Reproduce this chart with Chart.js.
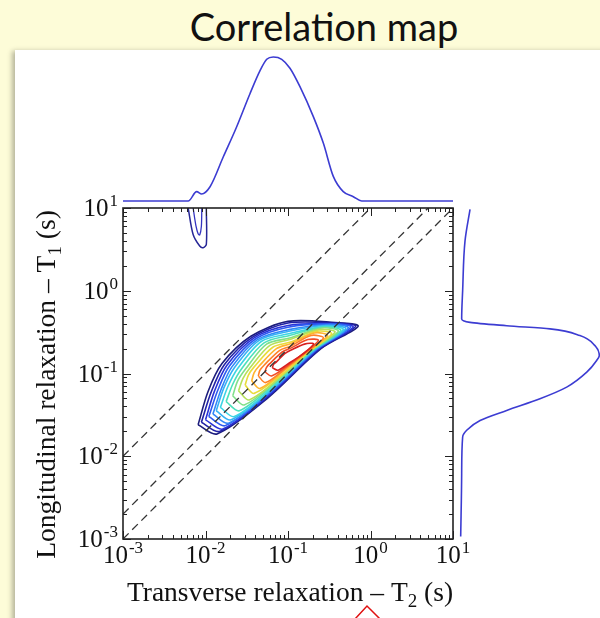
<!DOCTYPE html>
<html>
<head>
<meta charset="utf-8">
<script src="https://cdn.jsdelivr.net/npm/chart.js@4.4.1/dist/chart.umd.min.js"></script>
<style>
  html, body { margin: 0; padding: 0; }
  body { width: 600px; height: 618px; background: #fdfcd8; position: relative; overflow: hidden; }
  #title { position: absolute; left: 24px; width: 600px; top: 3px; text-align: center;
           font: 38px Lato, "Open Sans", sans-serif; color: #111; }
  #panel { position: absolute; left: 15px; top: 50px; width: 620px; height: 600px; background: #fff;
           box-shadow: -3px 1px 5px rgba(0,0,0,0.28); }
  canvas { position: absolute; }
</style>
</head>
<body>
<div id="title">Correlation map</div>
<div id="panel"></div>
<canvas id="main" width="600" height="618" style="left:0;top:0"></canvas>
<canvas id="topDist" width="340" height="158" style="left:118px;top:48px"></canvas>
<canvas id="rightDist" width="145" height="346" style="left:455px;top:200px"></canvas>
<script>
// axis texts
const xTitle = ['Transverse relaxation \u2013 T', '2', ' (s)'];
const yTitle = ['Longitudinal relaxation \u2013 T', '1', ' (s)'];
const tickExponents = [-3, -2, -1, 0, 1];

// T2 projection (top), amplitude normalised to its peak
const t2Values = [0.001, 0.00617, 0.00782, 0.00899, 0.01135, 0.01644, 0.02388, 0.03459, 0.04581,
  0.05521, 0.06637, 0.08395, 0.1057, 0.1396, 0.2028, 0.2679, 0.354, 0.4677, 0.6194, 0.7816, 10];
const t2Amp = [0, 0, 0.065, 0.049, 0.099, 0.307, 0.516, 0.745, 0.905,
  0.984, 1.0, 0.984, 0.922, 0.794, 0.586, 0.402, 0.171, 0.065, 0.030, 0, 0];

// T1 projection (right)
const t1Values = [0.00107, 0.0062, 0.0171, 0.0206, 0.0271, 0.0358, 0.0495, 0.0684, 0.1037,
  0.1435, 0.165, 0.217, 0.287, 0.346, 0.378, 0.415, 0.456, 1.0, 4.0, 9.64];
const t1Amp = [0.005, 0.012, 0.019, 0.048, 0.144, 0.335, 0.574, 0.766, 0.910,
  0.981, 1.0, 0.969, 0.861, 0.646, 0.335, 0.072, 0.012, 0.019, 0.036, 0.072];

// guide lines T1 = 10 T2, T1 = 2 T2, T1 = T2  ([T2, T1] end points)
const guideTenfold = [[0.001, 0.01], [1, 10]];
const guideTwofold = [[0.001, 0.002], [5, 10]];
const guideEqual = [[0.001, 0.001], [10, 10]];

// contour levels, outer -> inner, points as [log10 T2, log10 T1]
const contour1 = [[-2.09,-1.62],[-1.86,-1.73],[-1.25,-1.30],[-0.60,-0.70],[-0.15,-0.43],[-0.43,-0.385],[-1.00,-0.37],[-1.45,-0.55],[-1.80,-0.88],[-1.97,-1.22]];
const contour2 = [[-2.05,-1.59],[-1.83,-1.70],[-1.23,-1.27],[-0.61,-0.70],[-0.18,-0.43],[-0.45,-0.39],[-1.00,-0.39],[-1.43,-0.56],[-1.77,-0.89],[-1.93,-1.22]];
const contour3 = [[-2.00,-1.56],[-1.79,-1.67],[-1.21,-1.24],[-0.63,-0.70],[-0.21,-0.44],[-0.47,-0.40],[-1.00,-0.42],[-1.41,-0.57],[-1.74,-0.90],[-1.89,-1.21]];
const contour4 = [[-1.96,-1.52],[-1.76,-1.63],[-1.19,-1.21],[-0.64,-0.70],[-0.24,-0.44],[-0.49,-0.40],[-1.00,-0.44],[-1.39,-0.58],[-1.71,-0.91],[-1.85,-1.20]];
const contour5 = [[-1.91,-1.49],[-1.72,-1.60],[-1.17,-1.18],[-0.66,-0.71],[-0.27,-0.45],[-0.51,-0.41],[-0.99,-0.47],[-1.37,-0.59],[-1.68,-0.92],[-1.81,-1.19]];
const contour6 = [[-1.87,-1.45],[-1.69,-1.56],[-1.15,-1.15],[-0.67,-0.71],[-0.30,-0.46],[-0.53,-0.42],[-0.99,-0.49],[-1.35,-0.60],[-1.65,-0.93],[-1.78,-1.18]];
const contour7 = [[-1.82,-1.41],[-1.65,-1.52],[-1.13,-1.12],[-0.69,-0.71],[-0.33,-0.47],[-0.55,-0.43],[-0.99,-0.52],[-1.32,-0.61],[-1.61,-0.94],[-1.73,-1.16]];
const contour8 = [[-1.75,-1.34],[-1.59,-1.45],[-1.12,-1.09],[-0.70,-0.72],[-0.36,-0.48],[-0.57,-0.44],[-0.98,-0.54],[-1.29,-0.63],[-1.56,-0.94],[-1.67,-1.13]];
const contour9 = [[-1.67,-1.27],[-1.53,-1.38],[-1.10,-1.06],[-0.72,-0.72],[-0.39,-0.49],[-0.59,-0.45],[-0.98,-0.57],[-1.26,-0.645],[-1.51,-0.94],[-1.61,-1.09]];
const contour10 = [[-1.60,-1.21],[-1.47,-1.32],[-1.08,-1.03],[-0.73,-0.72],[-0.43,-0.50],[-0.62,-0.47],[-0.98,-0.59],[-1.22,-0.66],[-1.46,-0.93],[-1.545,-1.06]];
const contour11 = [[-1.52,-1.14],[-1.41,-1.24],[-1.06,-1.00],[-0.74,-0.73],[-0.47,-0.52],[-0.65,-0.49],[-0.97,-0.62],[-1.18,-0.68],[-1.41,-0.92],[-1.48,-1.02]];
const contour12 = [[-1.44,-1.09],[-1.34,-1.18],[-1.04,-0.96],[-0.76,-0.73],[-0.52,-0.54],[-0.68,-0.51],[-0.97,-0.64],[-1.14,-0.70],[-1.35,-0.91],[-1.41,-0.99]];
const contour13 = [[-1.36,-1.03],[-1.27,-1.11],[-1.02,-0.93],[-0.77,-0.74],[-0.57,-0.57],[-0.72,-0.54],[-0.97,-0.67],[-1.10,-0.72],[-1.29,-0.90],[-1.34,-0.96]];
const contour14 = [[-1.28,-0.98],[-1.20,-1.03],[-1.00,-0.90],[-0.79,-0.74],[-0.63,-0.60],[-0.76,-0.59],[-0.96,-0.69],[-1.07,-0.74],[-1.22,-0.88],[-1.26,-0.925]];
const contour15 = [[-1.19,-0.93],[-1.12,-0.96],[-0.98,-0.87],[-0.80,-0.75],[-0.69,-0.64],[-0.80,-0.645],[-0.96,-0.715],[-1.04,-0.76],[-1.14,-0.86],[-1.175,-0.89]];

// small separate feature hanging from the top edge near T2 = 0.01
const edgeLoopOuter = [[-2.21,1.0],[-2.15,0.68],[-2.07,0.54],[-2.03,0.52],[-1.99,0.56],[-1.99,1.0]];
const edgeLoopInner = [[-2.15,1.0],[-2.115,0.78],[-2.09,0.69],[-2.07,0.675],[-2.05,0.78],[-2.045,1.0]];

const contours = [contour1, contour2, contour3, contour4, contour5, contour6, contour7, contour8,
  contour9, contour10, contour11, contour12, contour13, contour14, contour15];
const jetColors = ['#1c1c7c', '#2222a6', '#2a32d6', '#2d5af0', '#3286f8', '#36b2f4', '#3cd4e4',
  '#4ce0bc', '#80e08a', '#b6e05a', '#e8dc3c', '#ffb430', '#ff8228', '#f04c26', '#d82020'];

const serif = '"Liberation Serif", "Times New Roman", serif';
const lineBlue = '#3c3cd2';

const fromLog = pts => pts.map(p => ({ x: Math.pow(10, p[0]), y: Math.pow(10, p[1]) }));
const closeLoop = pts => pts.concat([pts[0]]);
const asXY = pts => pts.map(p => ({ x: p[0], y: p[1] }));

function powerLabel(ctx, exp, x, y, align) {
  ctx.font = '25px ' + serif;
  const wBase = ctx.measureText('10').width;
  ctx.font = '17px ' + serif;
  const wExp = ctx.measureText(String(exp)).width;
  const total = wBase + 1 + wExp;
  const left = align === 'center' ? x - total / 2 : x - total;
  ctx.textAlign = 'left';
  ctx.textBaseline = 'alphabetic';
  ctx.font = '25px ' + serif;
  ctx.fillText('10', left, y);
  ctx.font = '17px ' + serif;
  ctx.fillText(String(exp), left + wBase + 1, y - 10);
}

function subTitle(ctx, parts, cx, cy) {
  const big = '27.5px ' + serif, small = '19px ' + serif;
  ctx.font = big;
  const w1 = ctx.measureText(parts[0]).width, w3 = ctx.measureText(parts[2]).width;
  ctx.font = small;
  const w2 = ctx.measureText(parts[1]).width;
  const left = cx - (w1 + w2 + w3) / 2;
  ctx.textAlign = 'left';
  ctx.textBaseline = 'alphabetic';
  ctx.font = big;
  ctx.fillText(parts[0], left, cy);
  ctx.font = small;
  ctx.fillText(parts[1], left + w1, cy + 6);
  ctx.font = big;
  ctx.fillText(parts[2], left + w1 + w2, cy);
}

const frame = {
  id: 'frame',
  afterDatasetsDraw(chart) {
    const { ctx, chartArea: a, scales: { x, y } } = chart;
    ctx.save();
    ctx.strokeStyle = '#222';
    ctx.lineWidth = 1;
    ctx.beginPath();
    tickExponents.forEach(e => {
      for (let m = 1; m < 10; m++) {
        const v = m * Math.pow(10, e);
        if (v > 10) break;
        const len = m === 1 ? 8 : 4;
        const px = Math.round(x.getPixelForValue(v)) + 0.5;
        const py = Math.round(y.getPixelForValue(v)) + 0.5;
        ctx.moveTo(px, a.bottom); ctx.lineTo(px, a.bottom - len);
        ctx.moveTo(px, a.top); ctx.lineTo(px, a.top + len);
        ctx.moveTo(a.left, py); ctx.lineTo(a.left + len, py);
        ctx.moveTo(a.right, py); ctx.lineTo(a.right - len, py);
      }
    });
    ctx.stroke();
    ctx.lineWidth = 1.6;
    ctx.strokeRect(a.left, a.top, a.right - a.left, a.bottom - a.top);

    ctx.fillStyle = '#111';
    tickExponents.forEach(e => {
      const v = Math.pow(10, e);
      powerLabel(ctx, e, x.getPixelForValue(v), a.bottom + 24, 'center');
      powerLabel(ctx, e, a.left - 5, y.getPixelForValue(v) + 8, 'right');
    });

    subTitle(ctx, xTitle, (a.left + a.right) / 2 + 2, a.bottom + 62);
    ctx.save();
    ctx.translate(55, (a.top + a.bottom) / 2 + 11);
    ctx.rotate(-Math.PI / 2);
    subTitle(ctx, yTitle, 0, 0);
    ctx.restore();

    // red proofing caret under the x title
    ctx.strokeStyle = '#e01010';
    ctx.lineWidth = 1.5;
    ctx.beginPath();
    ctx.moveTo(355, 619); ctx.lineTo(367, 606); ctx.lineTo(380, 619);
    ctx.stroke();
    ctx.restore();
  }
};

const guideStyle = { showLine: true, borderColor: '#333', borderWidth: 1.3, borderDash: [8, 5], pointRadius: 0, tension: 0 };
const datasets = [
  Object.assign({ data: asXY(guideTenfold) }, guideStyle),
  Object.assign({ data: asXY(guideTwofold) }, guideStyle),
  Object.assign({ data: asXY(guideEqual) }, guideStyle),
  { data: fromLog(edgeLoopOuter), showLine: true, borderColor: '#262696', borderWidth: 1.5, pointRadius: 0, tension: 0.3 },
  { data: fromLog(edgeLoopInner), showLine: true, borderColor: '#3434c0', borderWidth: 1.3, pointRadius: 0, tension: 0.3 },
];
contours.slice().reverse().forEach((c, i) => {
  const k = contours.length - 1 - i;
  datasets.push({ data: fromLog(closeLoop(c)), showLine: true, borderColor: jetColors[k],
    borderWidth: 1.6, pointRadius: 0, tension: 0.3 });
});

new Chart(document.getElementById('main'), {
  type: 'scatter',
  data: { datasets },
  options: {
    responsive: false, animation: false,
    layout: { padding: { left: 123, top: 208, right: 147, bottom: 79 } },
    scales: {
      x: { type: 'logarithmic', min: 0.001, max: 10, display: false },
      y: { type: 'logarithmic', min: 0.001, max: 10, display: false },
    },
    plugins: { legend: { display: false }, tooltip: { enabled: false } },
  },
  plugins: [frame],
});

new Chart(document.getElementById('topDist'), {
  type: 'line',
  data: {
    datasets: [{ data: t2Values.map((v, i) => ({ x: v, y: t2Amp[i] })), borderColor: lineBlue,
      borderWidth: 1.6, pointRadius: 0, cubicInterpolationMode: 'monotone', clip: false }],
  },
  options: {
    responsive: false, animation: false,
    layout: { padding: { left: 5, right: 5, top: 0, bottom: 5 } },
    scales: {
      x: { type: 'logarithmic', min: 0.001, max: 10, display: false },
      y: { min: 0, max: 1.0625, display: false },
    },
    plugins: { legend: { display: false }, tooltip: { enabled: false } },
  },
});

new Chart(document.getElementById('rightDist'), {
  type: 'line',
  data: {
    datasets: [{ data: t1Values.map((v, i) => ({ x: t1Amp[i], y: v })), borderColor: lineBlue,
      borderWidth: 1.6, pointRadius: 0, cubicInterpolationMode: 'monotone', clip: false }],
  },
  options: {
    indexAxis: 'y',
    responsive: false, animation: false,
    layout: { padding: { left: 5, right: 0, top: 8, bottom: 7 } },
    scales: {
      x: { type: 'linear', min: 0, max: 1.005, display: false },
      y: { type: 'logarithmic', min: 0.001, max: 10, display: false },
    },
    plugins: { legend: { display: false }, tooltip: { enabled: false } },
  },
});
</script>
</body>
</html>
